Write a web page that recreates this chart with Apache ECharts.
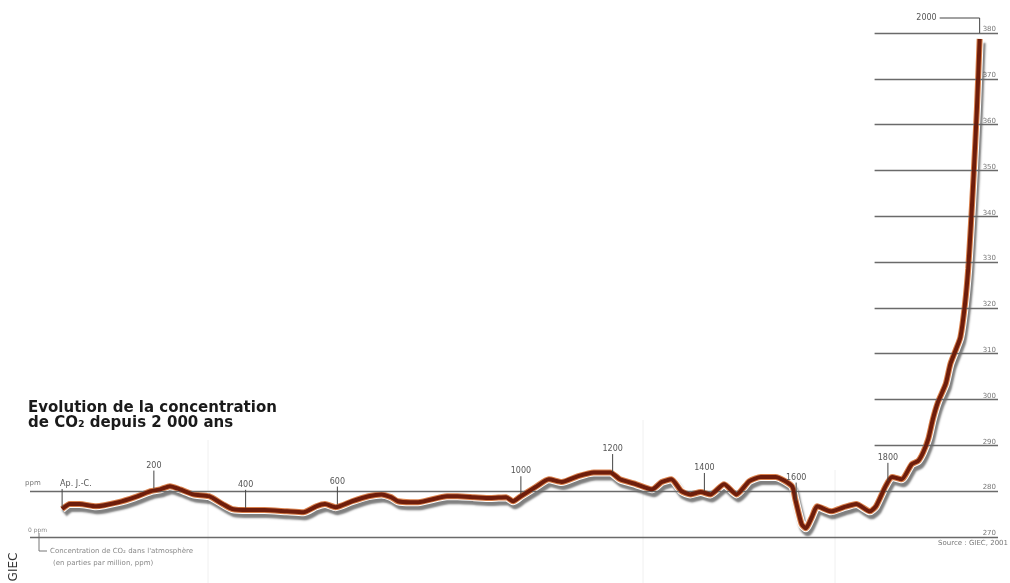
<!DOCTYPE html>
<html>
<head>
<meta charset="utf-8">
<script src="https://cdn.jsdelivr.net/npm/echarts@6/dist/echarts.min.js"></script>
<style>
html,body{margin:0;padding:0;background:#fff;}
#c{width:1010px;height:583px;}
</style>
</head>
<body>
<div id="c"></div>
<script>
// Years (AD) and CO2 concentration (ppm)
const years = [0,17,38,74,123,159,193,214,235,257,286,320,350,371,405,441,490,526,554,573,596,632,668,696,717,732,759,776,
  839,862,898,934,968,983,1000,1032,1061,1089,1125,1159,1195,1216,1252,1286,1307,1328,1350,1369,1392,1413,1443,1470,1498,
  1523,1555,1591,1598,1612,1621,1634,1646,1676,1704,1731,1761,1774,1795,1809,1830,1852,1866,1877,1888,1898,1909,
  1926,1936,1947,1958,1968,1975,1981,1987,1994,2000];
const ppm = [276.1,277.2,277.2,276.7,277.6,278.7,280.0,280.4,281.1,280.4,279.3,278.9,277.2,276.1,275.9,275.9,275.6,275.4,276.7,277.2,276.5,277.8,278.9,279.3,278.7,277.8,277.6,277.6,
  278.9,278.9,278.7,278.5,278.7,277.8,278.9,280.9,282.6,282.0,283.3,284.1,284.1,282.6,281.5,280.4,282.0,282.6,280.0,279.3,279.8,279.3,281.5,279.3,282.2,
  283.1,283.1,281.1,278.3,272.8,271.9,274.3,276.7,275.6,276.5,277.2,275.6,276.7,281.1,283.1,282.6,285.9,286.6,288.5,291.4,295.7,299.4,
  303.4,307.7,310.6,313.6,320.8,328.5,338.3,349.2,363.4,378.7];
// Year markers along the curve
const tickYears = [0,200,400,600,1000,1200,1400,1600,1800];
const tickLabels = ['Ap. J.-C.','200','400','600','1000','1200','1400','1600','1800'];
const endYear = 2000;
const endLabel = '2000';
// Value axis
const yMin = 270, yMax = 380, yStep = 10;
const fullLines = [270, 280];
const rightLines = [290,300,310,320,330,340,350,360,370,380];

const pts = years.map((y,i)=>[y, ppm[i]]);
function interp(t){
  for(let i=0;i<years.length-1;i++){
    if(t>=years[i] && t<=years[i+1]){
      const f=(t-years[i])/(years[i+1]-years[i]);
      return ppm[i]+f*(ppm[i+1]-ppm[i]);
    }
  }
  return ppm[ppm.length-1];
}

const chart = echarts.init(document.getElementById('c'), null, {renderer:'canvas'});
const FONT = 'DejaVu Sans';
const lineData = [];
fullLines.forEach(v=>lineData.push([{coord:[-70,v]},{coord:[2040,v]}]));
rightLines.forEach(v=>lineData.push([{coord:[1771,v]},{coord:[2040,v]}]));

chart.setOption({
  animation:false,
  backgroundColor:'#fff',
  title:{
    text:'Evolution de la concentration\nde CO₂ depuis 2 000 ans',
    left:28, top:401, padding:0,
    textStyle:{fontFamily:FONT, fontSize:15, fontWeight:'bold', color:'#1a1a1a', lineHeight:15}
  },
  grid:{left:30, right:12, top:33, bottom:46},
  xAxis:{type:'value', min:-70, max:2040, show:false},
  yAxis:{type:'value', min:yMin, max:yMax, interval:yStep, position:'right',
    axisLine:{show:false}, axisTick:{show:false}, splitLine:{show:false},
    axisLabel:{inside:true, fontSize:7, color:'#777', fontFamily:FONT, verticalAlign:'bottom', align:'right', margin:2}
  },
  series:[
    {type:'line', data:[], z:1, silent:true,
      markLine:{silent:true, symbol:'none', animation:false, label:{show:false},
        lineStyle:{color:'#6a6a6a', width:1.3, type:'solid'}, data:lineData}},
    {type:'line', data:pts, showSymbol:false, smooth:0.2, z:3, silent:true,
      lineStyle:{width:8, color:'#ffffff', shadowColor:'rgba(0,0,0,0.5)', shadowBlur:2, shadowOffsetX:2, shadowOffsetY:4}},
    {type:'line', data:pts, showSymbol:false, smooth:0.2, z:4, silent:true,
      lineStyle:{width:6, color:'#d9804c'}},
    {type:'line', data:pts, showSymbol:false, smooth:0.2, z:5, silent:true,
      lineStyle:{width:4, color:'#6e1d0b'}}
  ]
});

const g = [];
// faint vertical folds
[[208,440],[643,420],[835,470]].forEach(([x,y0])=>{
  g.push({type:'line', shape:{x1:x,y1:y0,x2:x,y2:583}, style:{stroke:'#f0f0f0', lineWidth:1}, z:0, silent:true});
});
// year markers
tickYears.forEach((t,i)=>{
  const p = chart.convertToPixel({gridIndex:0},[t, interp(t)]);
  g.push({type:'line', shape:{x1:p[0],y1:p[1]-2,x2:p[0],y2:p[1]-20}, style:{stroke:'#444', lineWidth:1}, z:10, silent:true});
  g.push({type:'text', x: i===0 ? p[0]-2 : p[0], y:p[1]-21, style:{text:tickLabels[i], fontSize:8, fontFamily:FONT, fill:'#555', align: i===0?'left':'center', verticalAlign:'bottom'}, z:10, silent:true});
});
// 2000 marker
const pe = chart.convertToPixel({gridIndex:0},[endYear, yMax]);
g.push({type:'polyline', shape:{points:[[pe[0],pe[1]],[pe[0],pe[1]-15],[pe[0]-40,pe[1]-15]]}, style:{stroke:'#444', lineWidth:1, fill:null}, z:10, silent:true});
g.push({type:'text', x:pe[0]-43, y:pe[1]-15, style:{text:endLabel, fontSize:8, fontFamily:FONT, fill:'#555', align:'right', verticalAlign:'middle'}, z:10, silent:true});
// left unit labels
const p280 = chart.convertToPixel({gridIndex:0},[-70, 280]);
const p270 = chart.convertToPixel({gridIndex:0},[-70, 270]);
g.push({type:'text', x:25, y:p280[1]-4, style:{text:'ppm', fontSize:7, fontFamily:FONT, fill:'#777', verticalAlign:'bottom'}, silent:true});
g.push({type:'text', x:28, y:p270[1]-4, style:{text:'0 ppm', fontSize:6, fontFamily:FONT, fill:'#888', verticalAlign:'bottom'}, silent:true});
// bracket & note
g.push({type:'polyline', shape:{points:[[39,p270[1]-4],[39,551],[47,551]]}, style:{stroke:'#777', lineWidth:1, fill:null}, silent:true});
g.push({type:'text', x:50, y:551, style:{text:'Concentration de CO₂ dans l\'atmosphère', fontSize:7, fontFamily:FONT, fill:'#888', verticalAlign:'middle'}, silent:true});
g.push({type:'text', x:53, y:563, style:{text:'(en parties par million, ppm)', fontSize:7, fontFamily:FONT, fill:'#888', verticalAlign:'middle'}, silent:true});
// source
g.push({type:'text', x:1008, y:p270[1]+6, style:{text:'Source : GIEC, 2001', fontSize:7, fontFamily:FONT, fill:'#777', align:'right', verticalAlign:'middle'}, silent:true});
// credit
g.push({type:'text', x:14, y:567, rotation:Math.PI/2, style:{text:'GIEC', fontSize:12, fontFamily:FONT, fill:'#333', align:'center', verticalAlign:'middle'}, silent:true});
chart.setOption({graphic:g});
</script>
</body>
</html>
